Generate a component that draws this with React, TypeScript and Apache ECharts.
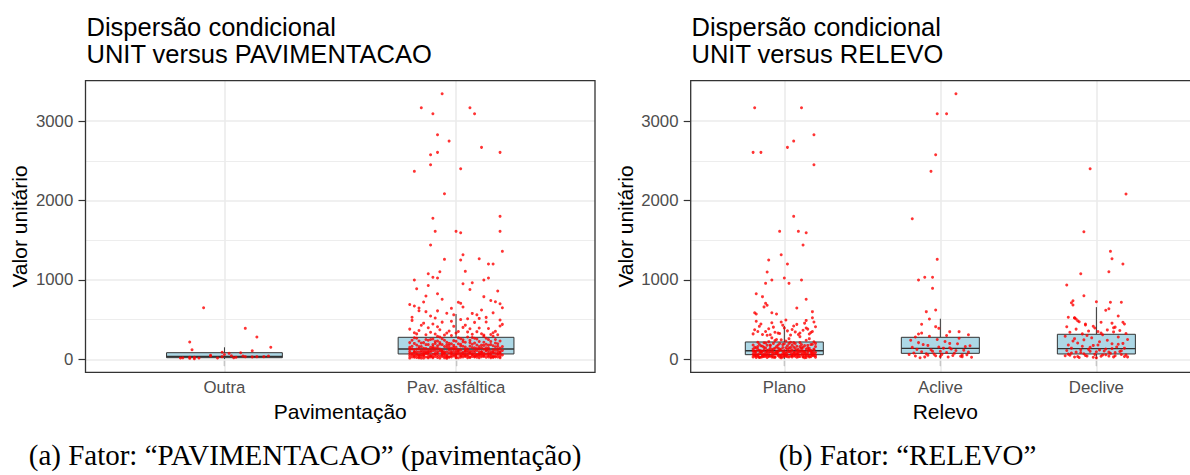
import React, { useEffect, useRef } from 'react';
import * as echarts from 'echarts';

const FONT = '"Liberation Sans", Arial, Helvetica, sans-serif';
const SERIF = '"Liberation Serif", "Times New Roman", serif';

const pavCategories = ['Outra', 'Pav. asfáltica'];
const relevoCategories = ['Plano', 'Aclive', 'Declive'];
const yTicks = [0, 1000, 2000, 3000];
const yMinorTicks = [500, 1500, 2500];
const yLimits = [-164, 3510];

const titleA = 'Dispersão condicional\nUNIT versus PAVIMENTACAO';
const titleB = 'Dispersão condicional\nUNIT versus RELEVO';
const yTitle = 'Valor unitário';
const xTitleA = 'Pavimentação';
const xTitleB = 'Relevo';
const captionA = '(a) Fator: \u201cPAVIMENTACAO\u201d (pavimentação)';
const captionB = '(b) Fator: \u201cRELEVO\u201d';

// boxplot stats: [lower whisker, Q1, median, Q3, upper whisker]
const pavBoxes = [
  [3, 20, 35, 83, 151],
  [3, 67, 130, 277, 570],
];
const relevoBoxes = [
  [3, 58, 108, 218, 420],
  [8, 75, 138, 277, 511],
  [3, 67, 134, 315, 657],
];

// jittered points: pairs (horizontal jitter in hundredths of a category, value)
const outraPts = [
  -9, 650, 9, 390, 14, 281, -15, 218, 20, 151, -14, 121, 12, 108, 2, 75, -1, 88, 7, 83, -6, 50,
  -19, 16, -18, 18, -15, 25, -15, 12, -13, 8, -13, 25, -11, 16, -6, 42, -3, 16, -1, 33, 4, 20,
  5, 25, 8, 42, 9, 33, 12, 30, 14, 33, 17, 33, 19, 42, 0, 60, 3, 45,
];

const pavUpperPts = [
  -6, 3345, -15, 3169, -10, 3093, 6, 3169, 8, 3093, -8, 2829, -3, 2749, 11, 2670, 19, 2607, -8, 2607,
  -11, 2577, -11, 2451, 2, 2400, -18, 2368, -5, 2086, -10, 1776, 19, 1801, -9, 1612, 0, 1612, 2, 1595,
  19, 1612, -11, 1439, 20, 1360, -5, 1259, 3, 1318, 2, 1251, 10, 1267, 14, 1200, 16, 1200, 4, 1108,
  -12, 1078, -7, 1103, -10, 1033, -8, 1024, -18, 999, 12, 999, 14, 1024, 3, 952, 7, 965,
];
const pavMidPts = [
  -17, 889, -8, 826, -13, 797, 12, 789, -6, 756, -14, 722, 17, 725, 19, 700, 20, 650, 1, 718,
  -18, 671, -16, 646, -16, 612, -13, 600, -8, 610, -11, 545, -2, 642, 2, 705, 3, 659, 5, 511,
  9, 560, 13, 528, 16, 585, 19, 495, 7, 578, -4, 580, -9, 520, 11, 620, 15, 740, -19, 530,
  -1, 560, 18, 860, -12, 930, 6, 880, -20, 690, 10, 515,
  -20, 380, -17, 320, -14, 455, -11, 340, -8, 410, -5, 305, -2, 480, 1, 350, 4, 430, 7, 315,
  10, 395, 13, 470, 16, 335, 19, 420, -19, 490, -16, 362, -13, 310, -10, 445, -7, 372, -4, 330,
  -1, 415, 2, 500, 5, 345, 8, 465, 11, 322, 14, 388, 17, 352, 20, 440, -18, 335, -12, 398,
  -6, 468, 0, 330, 6, 385, 12, 305, 18, 310, -15, 428, -9, 318, -3, 355, 3, 402, 9, 348, 15, 312,
];
const pavLowPts = [
  -20, 45, -18, 120, -16, 30, -14, 210, -12, 85, -10, 160, -8, 22, -6, 260, -4, 95, -2, 140, 0, 55, 2, 190, 4, 35, 6, 240, 8, 110, 10, 70, 12, 175, 14, 28, 16, 290, 18, 130,
  -19, 75, -17, 180, -15, 15, -13, 135, -11, 250, -9, 60, -7, 105, -5, 38, -3, 200, -1, 125, 1, 18, 3, 165, 5, 88, 7, 275, 9, 48, 11, 145, 13, 62, 15, 225, 17, 40, 19, 98,
  -20, 150, -18, 25, -16, 95, -14, 65, -12, 185, -10, 32, -8, 230, -6, 118, -4, 52, -2, 300, 0, 90, 2, 42, 4, 155, 6, 72, 8, 205, 10, 20, 12, 128, 14, 80, 16, 170, 18, 58,
  -19, 240, -17, 68, -15, 112, -13, 28, -11, 92, -9, 198, -7, 45, -5, 162, -3, 78, -1, 235, 1, 105, 3, 30, 5, 132, 7, 56, 9, 180, 11, 88, 13, 265, 15, 35, 17, 115, 19, 20,
  -20, 98, -18, 270, -16, 52, -14, 138, -12, 18, -10, 108, -8, 170, -6, 36, -4, 215, -2, 70, 0, 150, 2, 260, 4, 62, 6, 100, 8, 28, 10, 225, 12, 48, 14, 142, 16, 85, 18, 195,
  -19, 30, -17, 130, -15, 205, -13, 82, -11, 48, -9, 142, -7, 280, -5, 95, -3, 25, -1, 175, 1, 65, 3, 220, 5, 40, 7, 148, 9, 110, 11, 32, 13, 190, 15, 72, 17, 250, 19, 140,
  -20, 210, -18, 88, -16, 160, -14, 40, -12, 120, -10, 255, -8, 75, -6, 185, -4, 12, -2, 102, 0, 228, 2, 80, 4, 125, 6, 22, 8, 145, 10, 60, 12, 290, 14, 112, 16, 45, 18, 165,
  -19, 58, -17, 22, -15, 88, -13, 185, -11, 150, -9, 35, -7, 128, -5, 240, -3, 115, -1, 42, 1, 195, 3, 72, 5, 280, 7, 100, 9, 62, 11, 178, 13, 25, 15, 98, 17, 205, 19, 68,
  -20, 128, -18, 200, -16, 18, -14, 105, -12, 62, -10, 185, -8, 98, -6, 52, -4, 152, -2, 28, 0, 115, 2, 168, 4, 95, 6, 210, 8, 38, 10, 132, 12, 78, 14, 248, 16, 122, 18, 30,
  -19, 165, -17, 95, -15, 42, -13, 250, -11, 110, -9, 75, -7, 210, -5, 18, -3, 138, -1, 88, 1, 270, 3, 50, 5, 115, 7, 190, 9, 25, 11, 98, 13, 145, 15, 58, 17, 28, 19, 230,
  -18, 55, -16, 230, -14, 15, -12, 95, -10, 138, -8, 290, -6, 68, -4, 182, -2, 48, 0, 32, 2, 118, 4, 215, 6, 82, 8, 265, 10, 160, 12, 35, 14, 178, 16, 92, 18, 72, 20, 110,
  -17, 50, -15, 160, -13, 72, -11, 28, -9, 110, -7, 190, -5, 65, -3, 32, -1, 150, 1, 88, 3, 245, 5, 20, 7, 68, 9, 135, 11, 52, 13, 105, 15, 185, 17, 75, 19, 38, 20, 160,
  -20, 15, -18, 92, -16, 135, -14, 50, -12, 240, -10, 62, -8, 140, -6, 90, -4, 40, -2, 195, 0, 70, 2, 25, 4, 108, 6, 165, 8, 55, 10, 95, 12, 215, 14, 45, 16, 30, 18, 100,
  -19, 130, -17, 265, -15, 60, -13, 100, -11, 40, -9, 225, -7, 15, -5, 80, -3, 172, -1, 58, 1, 120, 3, 90, 5, 60, 7, 35, 9, 255, 11, 70, 13, 118, 15, 20, 17, 158, 19, 85,
  -20, 72, -16, 55, -12, 30, -8, 48, -4, 25, 0, 20, 4, 48, 8, 85, 12, 58, 16, 25, 20, 55, -18, 38, -14, 82, -10, 20, -6, 100, -2, 82, 2, 52, 6, 32, 10, 42, 14, 62,
];

const planoPts = [
  -19, 3169, 11, 3169, 19, 2829, 6, 2749, 2, 2670, -20, 2607, -15, 2607, 19, 2451, 6, 1801, -3, 1612,
  9, 1612, 14, 1595, 12, 1439, -2, 1318, -10, 1251, 2, 1200, -11, 1099, -8, 999, 11, 999, 0, 1024,
  -12, 957, 3, 957, -18, 826, -14, 789, 14, 756, -12, 705, -11, 680, -13, 660, 8, 646, -19, 587,
  -18, 570, -8, 587, -5, 570, 18, 600, 18, 524, 14, 490,
  -20, 320, -16, 415, -12, 350, -8, 460, -4, 330, 0, 395, 4, 305, 8, 440, 12, 365, 16, 318, 20, 410,
  -18, 480, -14, 312, -10, 385, -6, 340, -2, 470, 2, 358, 6, 420, 10, 332, 14, 395, 18, 350,
  -19, 372, -15, 445, -11, 302, -7, 405, -3, 325, 1, 495, 5, 375, 9, 312, 13, 455, 17, 338,
  -17, 350, -9, 310, -1, 430, 7, 345, 15, 380, 19, 470,
  -20, 62, -18, 145, -16, 28, -14, 98, -12, 205, -10, 45, -8, 120, -6, 75, -4, 180, -2, 35, 0, 110, 2, 58, 4, 215, 6, 90, 8, 25, 10, 160, 12, 68, 14, 128, 16, 42, 18, 190, 20, 85,
  -19, 105, -17, 38, -15, 170, -13, 62, -11, 22, -9, 138, -7, 88, -5, 250, -3, 50, -1, 148, 1, 78, 3, 30, 5, 118, 7, 198, 9, 55, 11, 92, 13, 20, 15, 175, 17, 66, 19, 130,
  -20, 180, -18, 70, -16, 112, -14, 32, -12, 85, -10, 222, -8, 48, -6, 140, -4, 95, -2, 18, 0, 195, 2, 125, 4, 40, 6, 72, 8, 165, 10, 100, 12, 28, 14, 240, 16, 115, 18, 48, 20, 25,
  -19, 40, -17, 125, -15, 82, -13, 208, -11, 58, -9, 95, -7, 26, -5, 162, -3, 110, -1, 65, 1, 230, 3, 98, 5, 45, 7, 135, 9, 80, 11, 185, 13, 52, 15, 105, 17, 32, 19, 220,
  -20, 130, -18, 22, -16, 190, -14, 60, -12, 142, -10, 80, -8, 270, -6, 30, -4, 65, -2, 122, 0, 42, 2, 170, 4, 85, 6, 210, 8, 115, 10, 35, 12, 152, 14, 70, 16, 260, 18, 95, 20, 160,
  -19, 88, -17, 55, -15, 25, -13, 115, -11, 178, -9, 42, -7, 200, -5, 72, -3, 28, -1, 98, 1, 145, 3, 260, 5, 62, 7, 38, 9, 125, 11, 60, 13, 95, 15, 48, 17, 185, 19, 72,
  -20, 30, -18, 100, -16, 72, -14, 165, -12, 38, -10, 118, -8, 85, -6, 235, -4, 140, -2, 55, 0, 82, 2, 32, 4, 108, 6, 155, 8, 60, 10, 285, 12, 105, 14, 22, 16, 138, 18, 58, 20, 200,
  -19, 150, -17, 215, -15, 108, -13, 35, -11, 88, -9, 170, -7, 60, -5, 102, -3, 198, -1, 30, 1, 52, 3, 140, 5, 180, 7, 92, 9, 32, 11, 128, 13, 172, 15, 78, 17, 112, 19, 45,
  -18, 40, -15, 95, -12, 55, -9, 180, -6, 25, -3, 130, 0, 65, 3, 200, 6, 45, 9, 100, 12, 35, 15, 140, 18, 75, -20, 100, -17, 160, -14, 45, -11, 112, -8, 30, -5, 85, -2, 245,
  1, 38, 4, 150, 7, 60, 10, 210, 13, 82, 16, 30, 19, 118, -19, 58, -16, 22, -13, 150, -10, 35, -7, 128, -4, 48, -1, 185, 2, 90, 5, 28, 8, 72, 11, 145, 14, 40, 17, 95, 20, 48,
];

const aclivePts = [
  10, 3345, -2, 3093, 4, 3093, -3, 2577, -6, 2368, -18, 1771, -2, 1259, -10, 1033, -5, 1033, -14, 999,
  -5, 894, -3, 621, -9, 600, -7, 507, -12, 441, -3, 411, -1, 390, 6, 348, 12, 348, -14, 319,
  -20, 60, -18, 150, -16, 42, -14, 210, -12, 95, -10, 30, -8, 175, -6, 120, -4, 65, -2, 250, 0, 35, 2, 140, 4, 85, 6, 200, 8, 48, 10, 110, 12, 265, 14, 55, 16, 160, 18, 90, 20, 25,
  -19, 240, -17, 80, -15, 125, -13, 20, -11, 185, -9, 70, -7, 290, -5, 100, -3, 45, -1, 155, 1, 62, 3, 225, 5, 28, 7, 130, 9, 75, 11, 195, 13, 38, 15, 115, 17, 58, 19, 170,
  -16, 280, -8, 52, 0, 100, 6, 145, 14, 32, 18, 310, -12, 330, 4, 300,
];

const declivePts = [
  -4, 2400, 19, 2082, -8, 1607, 9, 1360, 10, 1267, 17, 1200, -10, 1078, 8, 1103, -19, 936, -8, 801,
  16, 718, 0, 725, 6, 617, 8, 637, 14, 545, 17, 466, 18, 445, 3, 466, -2, 416, 10, 455,
  12, 405, 11, 398, -15, 738, -15, 684, -14, 524, -13, 507, -11, 473, -7, 445, -7, 432, 9, 718,
  -16, 713, -18, 529, -14, 520, -12, 486,
  -20, 45, -18, 180, -16, 80, -14, 260, -12, 35, -10, 120, -8, 70, -6, 300, -4, 150, -2, 25, 0, 95, 2, 220, 4, 55, 6, 130, 8, 40, 10, 195, 12, 85, 14, 280, 16, 60, 18, 140, 20, 30,
  -19, 110, -17, 52, -15, 230, -13, 90, -11, 22, -9, 165, -7, 48, -5, 125, -3, 270, -1, 62, 1, 180, 3, 38, 5, 105, 7, 240, 9, 75, 11, 30, 13, 155, 15, 98, 17, 200, 19, 55,
  -20, 290, -18, 65, -16, 140, -14, 28, -12, 205, -10, 85, -8, 245, -6, 40, -4, 100, -2, 175, 0, 18, 2, 118, 4, 310, 6, 58, 8, 90, 10, 135, 12, 45, 14, 190, 16, 108, 18, 35, 20, 250,
  -17, 340, -13, 380, -9, 320, -5, 355, -1, 395, 3, 330, 7, 370, 11, 345, 15, 362, 19, 325, -19, 410, 1, 350,
];

function jitter(pairs: number[], cat: number): number[][] {
  const out: number[][] = [];
  for (let i = 0; i < pairs.length; i += 2) out.push([cat + pairs[i] / 100, pairs[i + 1]]);
  return out;
}

const GRID_TOP = 80.7;
const GRID_H = 291.6;
const panels = [
  { left: 85.5, width: 509.5 },
  { left: 690.7, width: 509.3 },
];

const boxRender = (params: any, api: any) => {
  const x = api.value(0);
  const hw = 0.25;
  const stroke = '#333333';
  const pMax = api.coord([x, api.value(5)]);
  const pQ3 = api.coord([x, api.value(4)]);
  const pMed = api.coord([x, api.value(3)]);
  const pQ1 = api.coord([x, api.value(2)]);
  const pMin = api.coord([x, api.value(1)]);
  const l = api.coord([x - hw, api.value(4)])[0];
  const r = api.coord([x + hw, api.value(4)])[0];
  return {
    type: 'group',
    children: [
      { type: 'line', shape: { x1: pMax[0], y1: pMax[1], x2: pQ3[0], y2: pQ3[1] }, style: { stroke, lineWidth: 1 } },
      { type: 'line', shape: { x1: pMin[0], y1: pMin[1], x2: pQ1[0], y2: pQ1[1] }, style: { stroke, lineWidth: 1 } },
      { type: 'rect', shape: { x: l, y: pQ3[1], width: r - l, height: pQ1[1] - pQ3[1] }, style: { fill: '#ADD8E6', stroke, lineWidth: 1 } },
      { type: 'line', shape: { x1: l, y1: pMed[1], x2: r, y2: pMed[1] }, style: { stroke, lineWidth: 1.4 } },
    ],
  };
};

function gridLines(cats: number) {
  const major = { color: '#EBEBEB', width: 1.6, type: 'solid' };
  const minor = { color: '#EBEBEB', width: 0.9, type: 'solid' };
  const data: any[] = [];
  yMinorTicks.forEach((v) => data.push({ yAxis: v, lineStyle: minor }));
  yTicks.forEach((v) => data.push({ yAxis: v, lineStyle: major }));
  for (let c = 1; c <= cats; c++) data.push({ xAxis: c, lineStyle: major });
  return data;
}

export default function App() {
  const ref = useRef<HTMLDivElement>(null);
  useEffect(() => {
    if (!ref.current) return;
    const chart = echarts.init(ref.current, undefined, { renderer: 'svg' });
    const labelBase = { color: '#4D4D4D', fontSize: 16.8, fontFamily: FONT };
    const tickBase = { length: 7, lineStyle: { color: '#333333', width: 1.2 } };
    const mkX = (gi: number, cats: string[]) => ({
      type: 'value',
      gridIndex: gi,
      min: 0.4,
      max: cats.length + 0.6,
      axisLine: { show: false },
      splitLine: { show: false },
      axisTick: { ...tickBase, customValues: cats.map((_, i) => i + 1) },
      axisLabel: {
        ...labelBase,
        margin: 6.8,
        customValues: cats.map((_, i) => i + 1),
        formatter: (v: number) => cats[Math.round(v) - 1] ?? '',
      },
    });
    const mkY = (gi: number) => ({
      type: 'value',
      gridIndex: gi,
      min: yLimits[0],
      max: yLimits[1],
      axisLine: { show: false },
      splitLine: { show: false },
      axisTick: { ...tickBase, customValues: yTicks },
      axisLabel: { ...labelBase, margin: 12.2, customValues: yTicks, formatter: (v: number) => String(v) },
    });
    const pointSeries = (gi: number, data: number[][]) => ({
      type: 'scatter',
      xAxisIndex: gi,
      yAxisIndex: gi,
      data,
      symbol: 'circle',
      symbolSize: 3,
      itemStyle: { color: '#FF0000' },
      z: 3,
      silent: true,
    });
    const gridSeries = (gi: number, cats: number) => ({
      type: 'scatter',
      xAxisIndex: gi,
      yAxisIndex: gi,
      data: [],
      z: 1,
      silent: true,
      markLine: { silent: true, z: 1, symbol: ['none', 'none'], label: { show: false }, data: gridLines(cats) },
    });
    const boxSeries = (gi: number, boxes: number[][]) => ({
      type: 'custom',
      xAxisIndex: gi,
      yAxisIndex: gi,
      z: 2,
      silent: true,
      data: boxes.map((b, i) => [i + 1, ...b]),
      encode: { x: 0, y: [1, 2, 3, 4, 5] },
      renderItem: boxRender,
    });
    const textEl = (text: string, x: number, y: number, size: number, extra: any = {}) => ({
      type: 'text',
      x,
      y,
      z: 50,
      silent: true,
      style: { text, fontSize: size, fontFamily: FONT, fill: '#000000', align: 'center', verticalAlign: 'middle', ...extra },
    });
    chart.setOption({
      animation: false,
      grid: panels.map((p) => ({ left: p.left, top: GRID_TOP, width: p.width, height: GRID_H })),
      xAxis: [mkX(0, pavCategories), mkX(1, relevoCategories)],
      yAxis: [mkY(0), mkY(1)],
      series: [
        gridSeries(0, pavCategories.length),
        gridSeries(1, relevoCategories.length),
        boxSeries(0, pavBoxes),
        boxSeries(1, relevoBoxes),
        pointSeries(0, [...jitter(outraPts, 1), ...jitter(pavUpperPts, 2), ...jitter(pavMidPts, 2), ...jitter(pavLowPts, 2)]),
        pointSeries(1, [...jitter(planoPts, 1), ...jitter(aclivePts, 2), ...jitter(declivePts, 3)]),
      ],
      graphic: [
        ...panels.map((p) => ({
          type: 'rect',
          z: 60,
          silent: true,
          shape: { x: p.left, y: GRID_TOP, width: p.width, height: GRID_H },
          style: { fill: 'none', stroke: '#333333', lineWidth: 1.3 },
        })),
        textEl(titleA, 86.5, 13, 25.5, { align: 'left', verticalAlign: 'top', lineHeight: 27.6 }),
        textEl(titleB, 691.5, 13, 25.5, { align: 'left', verticalAlign: 'top', lineHeight: 27.6 }),
        { ...textEl(yTitle, 19.5, GRID_TOP + GRID_H / 2, 21), rotation: Math.PI / 2 },
        { ...textEl(yTitle, 625, GRID_TOP + GRID_H / 2, 21), rotation: Math.PI / 2 },
        textEl(xTitleA, panels[0].left + panels[0].width / 2, 411.6, 21),
        textEl(xTitleB, panels[1].left + panels[1].width / 2, 411.6, 21),
        textEl(captionA, 305, 455.3, 29, { fontFamily: SERIF }),
        textEl(captionB, 907.5, 455.3, 29, { fontFamily: SERIF }),
      ],
    });
    return () => chart.dispose();
  }, []);
  return <div ref={ref} style={{ position: 'fixed', left: 0, top: 0, width: 1190, height: 475, background: '#fff' }} />;
}
